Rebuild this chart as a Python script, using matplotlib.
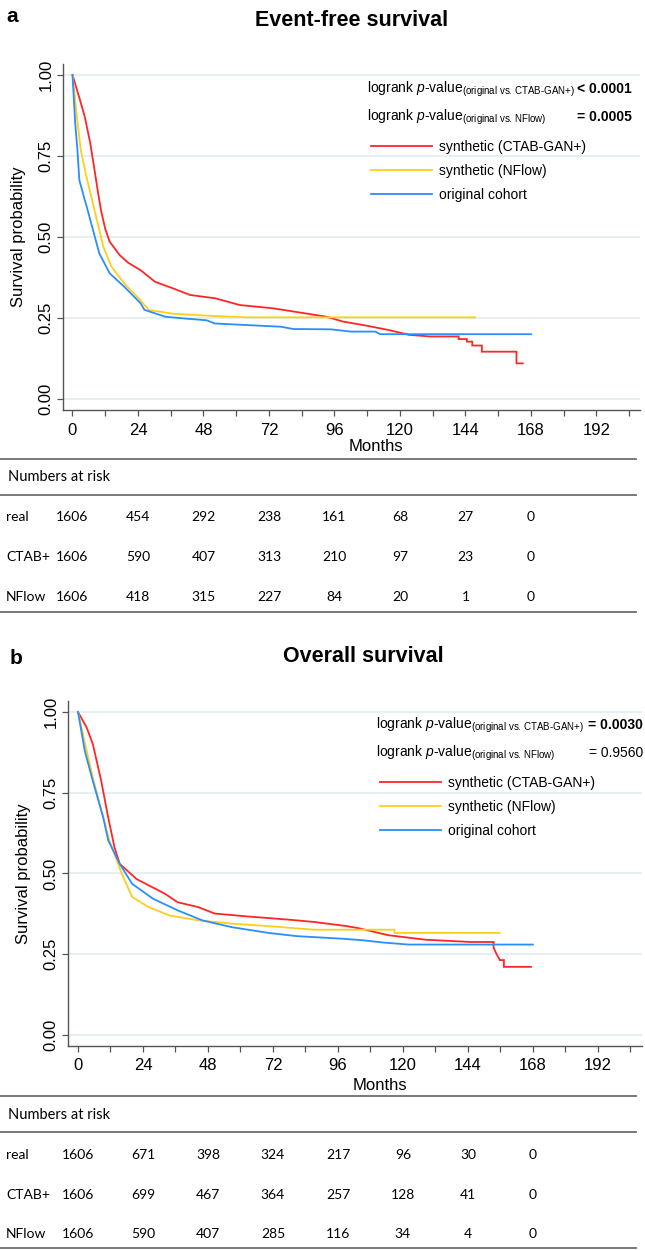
import matplotlib
matplotlib.use("Agg")
import matplotlib.pyplot as plt
from matplotlib.ticker import MultipleLocator, FixedLocator
from matplotlib.transforms import blended_transform_factory
from matplotlib.lines import Line2D

# ---------------- data ----------------
# Panel a: Event-free survival  (months, survival probability)
efs_ctab_t = [0, 2.5, 4.5, 6.5, 8.2, 9.4, 10.5, 12, 13.6, 17.3, 20.5, 24.9, 30.2, 37, 43.1, 52.2, 61.3,
              73.4, 84, 93, 99.1, 106.7, 115.8, 123.3, 130.9, 141.5, 141.5, 144.5, 144.5, 146.5, 146.5,
              150, 150, 162.7, 162.7, 165]
efs_ctab_s = [1.0, 0.93, 0.871, 0.79, 0.70, 0.635, 0.580, 0.525, 0.486, 0.444, 0.420, 0.398, 0.362,
              0.341, 0.321, 0.311, 0.290, 0.280, 0.266, 0.254, 0.239, 0.228, 0.213, 0.198, 0.193, 0.193,
              0.185, 0.185, 0.177, 0.177, 0.165, 0.165, 0.146, 0.146, 0.110, 0.110]
efs_nflow_t = [0, 1.5, 3, 5, 7, 9, 11.3, 14.3, 18.9, 24.9, 27.9, 37, 52, 64, 147.6]
efs_nflow_s = [1.0, 0.88, 0.77, 0.69, 0.62, 0.55, 0.47, 0.408, 0.357, 0.305, 0.275, 0.263, 0.256, 0.252, 0.252]
efs_orig_t = [0, 1, 1.8, 2.5, 4.5, 5.2, 7.5, 9.8, 13.6, 18.9, 24.9, 26.4, 34, 41.6, 49.1, 52.2, 64.3,
              76.4, 80.9, 94.6, 102, 111, 112.7, 168]
efs_orig_s = [1.0, 0.85, 0.77, 0.676, 0.614, 0.594, 0.522, 0.450, 0.388, 0.347, 0.296, 0.275, 0.254,
              0.248, 0.243, 0.233, 0.228, 0.223, 0.216, 0.215, 0.208, 0.208, 0.200, 0.200]

# Panel b: Overall survival
os_ctab_t = [0, 3.2, 5.5, 8.6, 10.9, 13.5, 15.4, 21.6, 32.2, 36.8, 44.4, 50.5, 62.7, 78, 87.2, 99.4,
             104, 114.6, 128.4, 145.1, 153.5, 153.5, 154.5, 155.8, 157.3, 157.3, 167.3]
os_ctab_s = [1.0, 0.952, 0.900, 0.786, 0.684, 0.580, 0.530, 0.483, 0.437, 0.411, 0.396, 0.376, 0.367,
             0.357, 0.350, 0.337, 0.330, 0.309, 0.295, 0.288, 0.288, 0.270, 0.252, 0.232, 0.232, 0.211, 0.211]
os_nflow_t = [0, 3.2, 5.5, 9.3, 11.6, 16.2, 20, 26.1, 33.8, 44.4, 56.7, 70.4, 87.2, 116.9, 116.9, 155.8]
os_nflow_s = [1.0, 0.880, 0.796, 0.674, 0.602, 0.499, 0.427, 0.396, 0.370, 0.355, 0.345, 0.337, 0.326,
              0.326, 0.316, 0.316]
os_orig_t = [0, 2.5, 5.5, 9.3, 11.2, 15.4, 20, 27.7, 36.8, 45.9, 56.7, 70.4, 81, 97.8, 105.5, 113.1,
             122.2, 168]
os_orig_s = [1.0, 0.880, 0.786, 0.674, 0.602, 0.530, 0.468, 0.422, 0.386, 0.355, 0.334, 0.316, 0.306,
             0.298, 0.293, 0.286, 0.280, 0.280]

x_ticks = [0, 24, 48, 72, 96, 120, 144, 168, 192]
y_ticks = [0.00, 0.25, 0.50, 0.75, 1.00]
y_tick_labels = ["0.00", "0.25", "0.50", "0.75", "1.00"]
risk_months = [0, 24, 48, 72, 96, 120, 144, 168]
row_labels = ["real", "CTAB+", "NFlow"]
efs_risk_real = [1606, 454, 292, 238, 161, 68, 27, 0]
efs_risk_ctab = [1606, 590, 407, 313, 210, 97, 23, 0]
efs_risk_nflow = [1606, 418, 315, 227, 84, 20, 1, 0]
os_risk_real = [1606, 671, 398, 324, 217, 96, 30, 0]
os_risk_ctab = [1606, 699, 467, 364, 257, 128, 41, 0]
os_risk_nflow = [1606, 590, 407, 285, 116, 34, 4, 0]

legend_labels = ["synthetic (CTAB-GAN+)", "synthetic (NFlow)", "original cohort"]
efs_pvals = ["< 0.0001", "= 0.0005"]
os_pvals = ["= 0.0030", "= 0.9560"]
efs_pbold = [True, True]
os_pbold = [True, False]

# ---------------- style ----------------
plt.rcParams['font.family'] = ['Liberation Sans', 'DejaVu Sans']
plt.rcParams['mathtext.fontset'] = 'custom'
plt.rcParams['mathtext.rm'] = 'Liberation Sans'
plt.rcParams['mathtext.it'] = 'Liberation Sans:italic'
plt.rcParams['mathtext.bf'] = 'Liberation Sans:bold'

RED = '#ff2626'
YEL = '#ffcf1a'
BLU = '#2b8eff'
GRID = '#e6f0f2'
SPINE = '#555555'
TABLE_FONT = ['Lato', 'DejaVu Sans']
TABLE_SIZE = 10

W, H = 645, 1250
fig = plt.figure(figsize=(W / 100, H / 100), dpi=100)


def fx(x):
    return x / W


def fy(y):
    return 1 - y / H


def make_panel(box, xlim, curves, letter, letter_xy, title, title_xy, pvals, pbold, p_right,
               legend_top, months_xy, table_y, risk_rows):
    left, top, right, bottom = box
    ax = fig.add_axes([fx(left), fy(bottom), fx(right) - fx(left), (bottom - top) / H])
    ax.set_xlim(*xlim)
    ax.set_ylim(-0.034, 1.034)
    for sp in ['top', 'right']:
        ax.spines[sp].set_visible(False)
    for sp in ['left', 'bottom']:
        ax.spines[sp].set_color(SPINE)
        ax.spines[sp].set_linewidth(1.0)
    ax.set_axisbelow(True)
    ax.yaxis.grid(True, color=GRID, lw=1.4)
    ax.xaxis.set_major_locator(FixedLocator(x_ticks))
    ax.xaxis.set_minor_locator(MultipleLocator(12))
    ax.yaxis.set_major_locator(FixedLocator(y_ticks))
    ax.set_yticklabels(y_tick_labels)
    ax.tick_params(axis='both', which='both', length=4.5, width=0.9, color=SPINE, labelsize=12)
    ax.tick_params(axis='x', which='both', pad=4.5)
    ax.tick_params(axis='y', pad=2.5)
    for lab in ax.get_yticklabels():
        lab.set_rotation(90)
        lab.set_va('center')
    ax.set_ylabel('Survival probability', fontsize=12, labelpad=9)

    handles = []
    for (t, s, c) in curves:
        ln, = ax.plot(t, s, color=c, lw=1.3, solid_joinstyle='miter')
        handles.append(ln)

    ax.legend(handles, legend_labels, loc='upper left',
              bbox_to_anchor=(fx(legend_top[0]), fy(legend_top[1])), bbox_transform=fig.transFigure,
              frameon=False, borderpad=0, borderaxespad=0, handlelength=4.4, handletextpad=0.5,
              labelspacing=0.72, fontsize=10)

    # logrank texts
    subs = [r'(original vs. CTAB-GAN+)', r'(original vs. NFlow)']
    for i, (sub, pv, b) in enumerate(zip(subs, pvals, pbold)):
        ybase = legend_top[1] - 47 + 28 * i
        fig.text(fx(legend_top[0] - 4), fy(ybase),
                 r'logrank $\mathit{p}$-value$_{\text{' + sub + '}}$',
                 fontsize=10, va='baseline', ha='left')
        fig.text(fx(p_right), fy(ybase), pv, fontsize=10, va='baseline', ha='right',
                 fontweight='bold' if b else 'normal')

    fig.text(fx(letter_xy[0]), fy(letter_xy[1]), letter, fontsize=15, fontweight='bold',
             ha='left', va='center')
    fig.text(fx(title_xy[0]), fy(title_xy[1]), title, fontsize=15.5, fontweight='bold',
             ha='center', va='center')
    fig.text(fx(months_xy[0]), fy(months_xy[1]), 'Months', fontsize=12, ha='center', va='center')

    # numbers at risk table
    l1, ynum, l2, r1, r2, r3, l3 = table_y
    for yy in (l1, l2, l3):
        fig.add_artist(Line2D([0, fx(636)], [fy(yy), fy(yy)], color='#6e6e6e', lw=1.3))
    fig.text(fx(8), fy(ynum), 'Numbers at risk', fontsize=TABLE_SIZE + 0.5, family=TABLE_FONT,
             ha='left', va='center')
    tr = blended_transform_factory(ax.transData, fig.transFigure)
    for lab, vals, yy in zip(row_labels, risk_rows, (r1, r2, r3)):
        fig.text(fx(6), fy(yy), lab, fontsize=TABLE_SIZE, family=TABLE_FONT, ha='left', va='center')
        for m, v in zip(risk_months, vals):
            ax.text(m, fy(yy), str(v), transform=tr, fontsize=TABLE_SIZE, family=TABLE_FONT,
                    ha='center', va='center', clip_on=False)
    return ax


make_panel(box=(63, 64, 640, 410), xlim=(-3.48, 207.96),
           curves=[(efs_ctab_t, efs_ctab_s, RED), (efs_nflow_t, efs_nflow_s, YEL),
                   (efs_orig_t, efs_orig_s, BLU)],
           letter='a', letter_xy=(6, 16), title='Event-free survival', title_xy=(352, 20),
           pvals=efs_pvals, pbold=efs_pbold, p_right=632, legend_top=(371, 140),
           months_xy=(376, 447), table_y=(459, 477, 495, 517, 557, 597, 612),
           risk_rows=[efs_risk_real, efs_risk_ctab, efs_risk_nflow])

make_panel(box=(68, 701, 642, 1046), xlim=(-3.69, 208.3),
           curves=[(os_ctab_t, os_ctab_s, RED), (os_nflow_t, os_nflow_s, YEL),
                   (os_orig_t, os_orig_s, BLU)],
           letter='b', letter_xy=(10, 659), title='Overall survival', title_xy=(363, 657),
           pvals=os_pvals, pbold=os_pbold, p_right=643, legend_top=(380, 776),
           months_xy=(380, 1085), table_y=(1096, 1115, 1132, 1155, 1195, 1234, 1248),
           risk_rows=[os_risk_real, os_risk_ctab, os_risk_nflow])

fig.savefig('out.png', dpi=100)
